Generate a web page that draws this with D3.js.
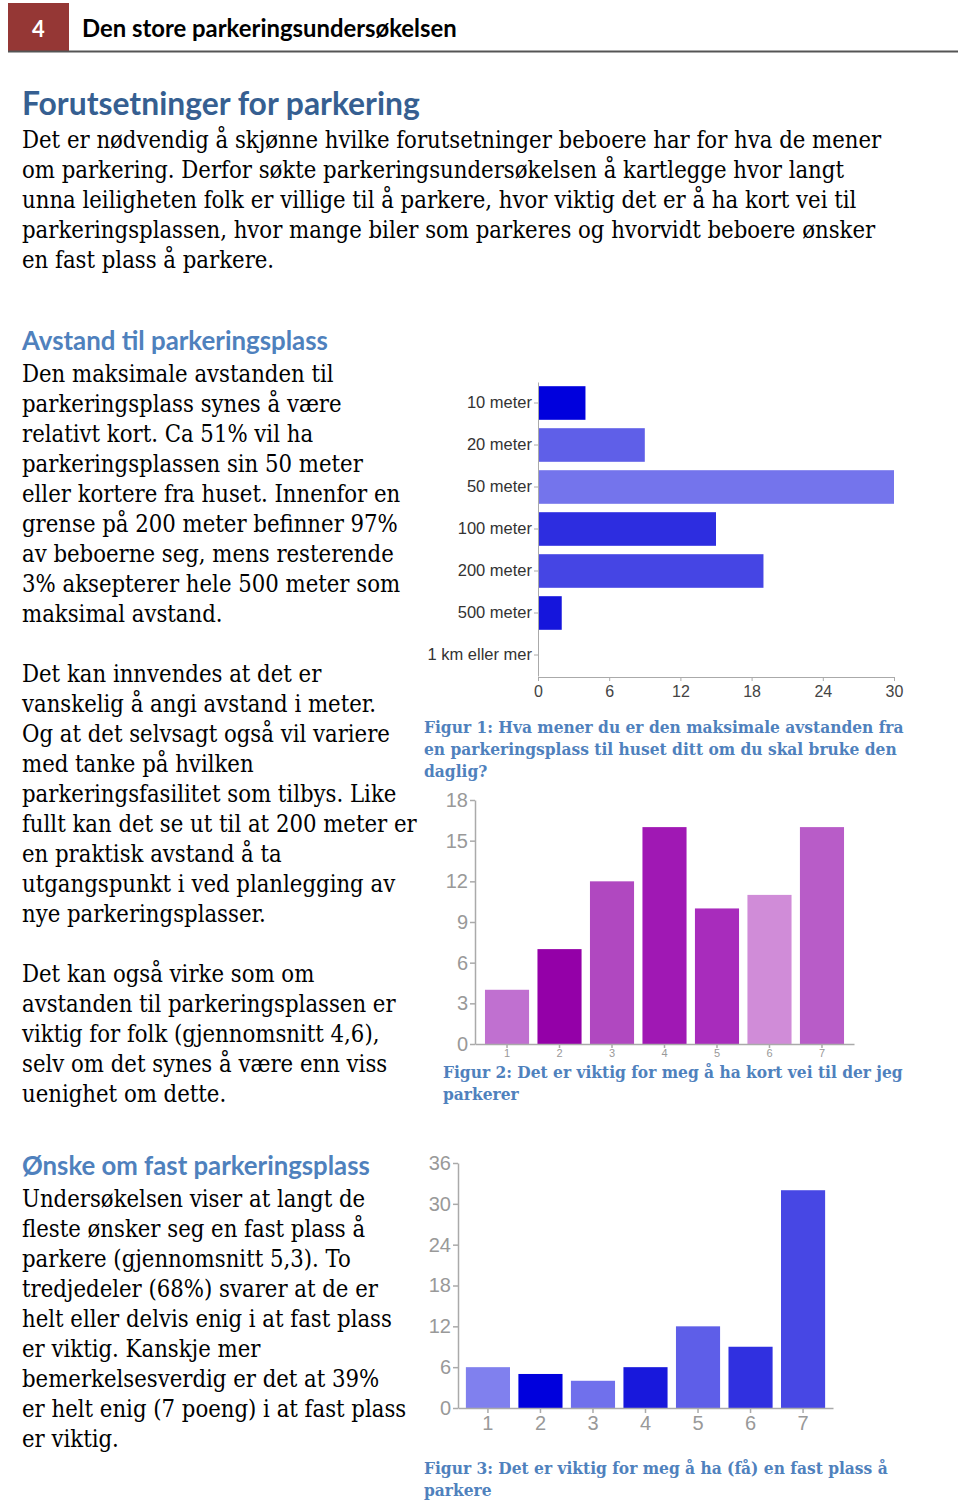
<!DOCTYPE html>
<html><head><meta charset="utf-8">
<script src="https://cdn.jsdelivr.net/npm/d3@7"></script>
<style>
html,body{margin:0;padding:0;background:#fff;}
svg{display:block;}
</style></head>
<body>
<svg id="page" width="960" height="1504"></svg>
<script>
// ---------- DATA ----------
const distCategories = ["10 meter","20 meter","50 meter","100 meter","200 meter","500 meter","1 km eller mer"];
const distValues = [4, 9, 30, 15, 19, 2, 0];
const distColors = ["#0000dd","#5f5fe8","#7474ec","#2d2de0","#4545e4","#1515dc","#8080ee"];
const distTicks = [0, 6, 12, 18, 24, 30];

const shortCategories = ["1","2","3","4","5","6","7"];
const shortValues = [4, 7, 12, 16, 10, 11, 16];
const shortColors = ["#c070d0","#9400a8","#b048c0","#a018b4","#a82cbc","#d08cd8","#b85cc8"];
const shortTicks = [0, 3, 6, 9, 12, 15, 18];

const fixedCategories = ["1","2","3","4","5","6","7"];
const fixedValues = [6, 5, 4, 6, 12, 9, 32];
const fixedColors = ["#8080ee","#0000dd","#7070ec","#1818dc","#5e5ee8","#3030e0","#4747e4"];
const fixedTicks = [0, 6, 12, 18, 24, 30, 36];

// ---------- TEXT ----------
const pageNumber = "4";
const runningTitle = "Den store parkeringsundersøkelsen";
const heading1 = "Forutsetninger for parkering";
const intro = [
  "Det er nødvendig å skjønne hvilke forutsetninger beboere har for hva de mener",
  "om parkering. Derfor søkte parkeringsundersøkelsen å kartlegge hvor langt",
  "unna leiligheten folk er villige til å parkere, hvor viktig det er å ha kort vei til",
  "parkeringsplassen, hvor mange biler som parkeres og hvorvidt beboere ønsker",
  "en fast plass å parkere."
];
const heading2 = "Avstand til parkeringsplass";
const para1 = [
  "Den maksimale avstanden til",
  "parkeringsplass synes å være",
  "relativt kort. Ca 51% vil ha",
  "parkeringsplassen sin 50 meter",
  "eller kortere fra huset. Innenfor en",
  "grense på 200 meter befinner 97%",
  "av beboerne seg, mens resterende",
  "3% aksepterer hele 500 meter som",
  "maksimal avstand."
];
const para2 = [
  "Det kan innvendes at det er",
  "vanskelig å angi avstand i meter.",
  "Og at det selvsagt også vil variere",
  "med tanke på hvilken",
  "parkeringsfasilitet som tilbys. Like",
  "fullt kan det se ut til at 200 meter er",
  "en praktisk avstand å ta",
  "utgangspunkt i ved planlegging av",
  "nye parkeringsplasser."
];
const para3 = [
  "Det kan også virke som om",
  "avstanden til parkeringsplassen er",
  "viktig for folk (gjennomsnitt 4,6),",
  "selv om det synes å være enn viss",
  "uenighet om dette."
];
const heading3 = "Ønske om fast parkeringsplass";
const para4 = [
  "Undersøkelsen viser at langt de",
  "fleste ønsker seg en fast plass å",
  "parkere (gjennomsnitt 5,3). To",
  "tredjedeler (68%) svarer at de er",
  "helt eller delvis enig i at fast plass",
  "er viktig. Kanskje mer",
  "bemerkelsesverdig er det at 39%",
  "er helt enig (7 poeng) i at fast plass",
  "er viktig."
];
const caption1 = ["Figur 1: Hva mener du er den maksimale avstanden fra",
  "en parkeringsplass til huset ditt om du skal bruke den", "daglig?"];
const caption2 = ["Figur 2: Det er viktig for meg å ha kort vei til der jeg", "parkerer"];
const caption3 = ["Figur 3: Det er viktig for meg å ha (få) en fast plass å", "parkere"];

// ---------- DRAW ----------
const svg = d3.select("#page");

function fitSize(sample, family, weight, target) {
  const t = svg.append("text").attr("font-family", family).attr("font-weight", weight)
    .attr("font-size", 100).text(sample);
  const w = t.node().getComputedTextLength();
  t.remove();
  return 100 * target / w;
}

const SERIF = "'DejaVu Serif Condensed', 'DejaVu Serif', serif";
const SANS_H = "Lato, 'Open Sans', sans-serif";
const CHART = "'Liberation Sans', Arial, sans-serif";

const bodySize = fitSize(intro[0], SERIF, 400, 860);
const capSize = fitSize(caption1[0], SERIF, 700, 480);

// header
svg.append("rect").attr("x", 8).attr("y", 3).attr("width", 61).attr("height", 49).attr("fill", "#953735");
svg.append("text").attr("x", 38.5).attr("y", 37).attr("text-anchor", "middle")
  .attr("font-family", SANS_H).attr("font-weight", 700).attr("font-size", 22).attr("fill", "#fff").text(pageNumber);
svg.append("text").attr("x", 82).attr("y", 37)
  .attr("font-family", SANS_H).attr("font-weight", 700)
  .attr("font-size", fitSize(runningTitle, SANS_H, 700, 375)).attr("fill", "#000").text(runningTitle);
svg.append("line").attr("x1", 8).attr("x2", 958).attr("y1", 51.5).attr("y2", 51.5)
  .attr("stroke", "#555").attr("stroke-width", 2);

function heading(txt, y, target, color) {
  svg.append("text").attr("x", 22).attr("y", y).attr("font-family", SANS_H).attr("font-weight", 700)
    .attr("font-size", fitSize(txt, SANS_H, 700, target)).attr("fill", color).text(txt);
}
function lines(arr, x, y0, step, size, family, weight, color) {
  svg.append("g").selectAll("text").data(arr).join("text")
    .attr("x", x).attr("y", (d, i) => y0 + i * step)
    .attr("font-family", family).attr("font-weight", weight).attr("font-size", size)
    .attr("fill", color).text(d => d);
}

heading(heading1, 115, 398, "#365f91");
lines(intro, 22, 148, 30, bodySize, SERIF, 400, "#000");
heading(heading2, 350, 306, "#4f81bd");
lines(para1, 22, 382, 30, bodySize, SERIF, 400, "#000");
lines(para2, 22, 682, 30, bodySize, SERIF, 400, "#000");
lines(para3, 22, 982, 30, bodySize, SERIF, 400, "#000");
heading(heading3, 1175, 348, "#4f81bd");
lines(para4, 22, 1207, 30, bodySize, SERIF, 400, "#000");

lines(caption1, 424, 733, 22, capSize, SERIF, 700, "#4f81bd");
lines(caption2, 443, 1078, 22, capSize, SERIF, 700, "#4f81bd");
lines(caption3, 424, 1474, 22, capSize, SERIF, 700, "#4f81bd");

// ---------- Chart 1: horizontal bars ----------
{
  const x = d3.scaleLinear().domain([0, 30]).range([538, 894]);
  const y = d3.scaleBand().domain(distCategories).range([382, 676]).paddingInner(0.2).paddingOuter(0.1);
  const g = svg.append("g");
  g.selectAll("rect").data(distValues).join("rect")
    .attr("x", x(0)).attr("y", (d, i) => y(distCategories[i]))
    .attr("width", d => x(d) - x(0)).attr("height", y.bandwidth())
    .attr("fill", (d, i) => distColors[i]);
  const ya = g.append("g").attr("transform", `translate(${x(0)},0)`)
    .call(d3.axisLeft(y).tickSize(4).tickPadding(2).tickSizeOuter(0));
  ya.selectAll("text").attr("font-family", CHART).attr("font-size", 16.5).attr("fill", "#333");
  const xa = g.append("g").attr("transform", `translate(0,677)`)
    .call(d3.axisBottom(x).tickValues(distTicks).tickSize(4).tickPadding(5).tickSizeOuter(0));
  xa.selectAll("text").attr("font-family", CHART).attr("font-size", 16).attr("fill", "#444");
  g.selectAll(".domain, .tick line").attr("stroke", "#aaa");
}

// ---------- Chart 2: vertical bars (purple) ----------
{
  const x = d3.scaleBand().domain(shortCategories).range([475, 854]).paddingInner(0.16).paddingOuter(0.19);
  const y = d3.scaleLinear().domain([0, 18]).range([1044, 800]);
  const g = svg.append("g");
  g.selectAll("rect").data(shortValues).join("rect")
    .attr("x", (d, i) => x(shortCategories[i])).attr("y", d => y(d))
    .attr("width", x.bandwidth()).attr("height", d => y(0) - y(d))
    .attr("fill", (d, i) => shortColors[i]);
  const ya = g.append("g").attr("transform", "translate(475,0)")
    .call(d3.axisLeft(y).tickValues(shortTicks).tickSize(5).tickPadding(2).tickSizeOuter(0));
  ya.selectAll("text").attr("font-family", CHART).attr("font-size", 20).attr("fill", "#999");
  // category labels sit tight under the axis (the caption follows right below)
  const xa = g.append("g").attr("transform", "translate(0,1044)")
    .call(d3.axisBottom(x).tickSize(4).tickPadding(1).tickSizeOuter(0));
  xa.selectAll("text").attr("font-family", CHART).attr("font-size", 11).attr("fill", "#999");
  g.selectAll(".domain, .tick line").attr("stroke", "#aaa").attr("stroke-width", 1.5);
}

// ---------- Chart 3: vertical bars (blue) ----------
{
  const x = d3.scaleBand().domain(fixedCategories).range([458, 833]).paddingInner(0.16).paddingOuter(0.15);
  const y = d3.scaleLinear().domain([0, 36]).range([1408, 1163]);
  const g = svg.append("g");
  g.selectAll("rect").data(fixedValues).join("rect")
    .attr("x", (d, i) => x(fixedCategories[i])).attr("y", d => y(d))
    .attr("width", x.bandwidth()).attr("height", d => y(0) - y(d))
    .attr("fill", (d, i) => fixedColors[i]);
  const ya = g.append("g").attr("transform", "translate(458,0)")
    .call(d3.axisLeft(y).tickValues(fixedTicks).tickSize(5).tickPadding(2).tickSizeOuter(0));
  ya.selectAll("text").attr("font-family", CHART).attr("font-size", 20).attr("fill", "#999");
  const xa = g.append("g").attr("transform", "translate(0,1408)")
    .call(d3.axisBottom(x).tickSize(5).tickPadding(3).tickSizeOuter(0));
  xa.selectAll("text").attr("font-family", CHART).attr("font-size", 20).attr("fill", "#999");
  g.selectAll(".domain, .tick line").attr("stroke", "#aaa").attr("stroke-width", 1.5);
}
</script>
</body></html>
